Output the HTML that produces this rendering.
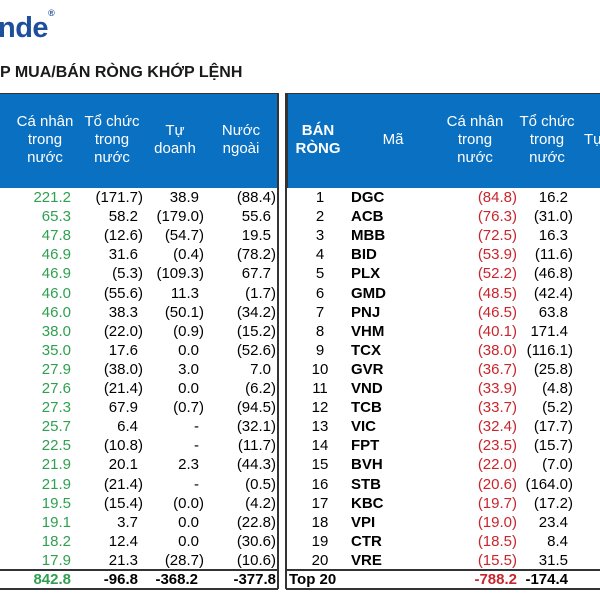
<!DOCTYPE html>
<html><head><meta charset="utf-8">
<style>
body{margin:0;width:600px;height:600px;overflow:hidden;background:#fff;font-family:"Liberation Sans",Arial,sans-serif;position:relative}
.a{position:absolute;white-space:nowrap}
.hd{color:#fff;font-size:15px;text-align:center;line-height:18px}
.c{font-size:15px;line-height:17px}
.g{color:#2fa050}.red{color:#c8252c}
.hp{visibility:hidden}
</style></head><body>
<div class="a" style="left:-2px;top:12px;font-size:29px;font-weight:bold;color:#1d4f9c;letter-spacing:-0.5px">nde<sup style="font-size:9px;vertical-align:top;position:relative;top:-4px">®</sup></div>
<div class="a" style="left:0;top:64px;font-size:16px;font-weight:bold;color:#1a1a1a">P MUA/BÁN RÒNG KHỚP LỆNH</div>

<div class="a" style="left:0;top:93px;width:278px;height:94px;background:#0a70c2;border-top:1px solid #333"></div>
<div class="a" style="left:286px;top:93px;width:314px;height:94px;background:#0a70c2;border-top:1px solid #333;border-left:2px solid #333"></div>
<div class="a" style="left:277px;top:93px;width:2px;height:496px;background:#333"></div>
<div class="a" style="left:285px;top:93px;width:2px;height:496px;background:#333"></div>

<div class="a hd" style="left:8px;top:113px;width:74px">Cá nhân<br>trong<br>nước</div>
<div class="a hd" style="left:75px;top:113px;width:74px">Tổ chức<br>trong<br>nước</div>
<div class="a hd" style="left:140px;top:122px;width:70px">Tự<br>doanh</div>
<div class="a hd" style="left:206px;top:122px;width:70px">Nước<br>ngoài</div>

<div class="a hd" style="left:288px;top:122px;width:60px;font-weight:bold">BÁN<br>RÒNG</div>
<div class="a hd" style="left:368px;top:131px;width:50px">Mã</div>
<div class="a hd" style="left:438px;top:113px;width:74px">Cá nhân<br>trong<br>nước</div>
<div class="a hd" style="left:510px;top:113px;width:74px">Tổ chức<br>trong<br>nước</div>
<div class="a hd" style="left:584px;top:131px;width:30px;text-align:left">Tự</div>

<div class="a" style="left:0;top:569px;width:278px;height:2px;background:#333"></div>
<div class="a" style="left:0;top:588px;width:278px;height:2px;background:#333"></div>
<div class="a" style="left:286px;top:569px;width:314px;height:2px;background:#333"></div>
<div class="a" style="left:286px;top:588px;width:314px;height:2px;background:#333"></div>

<div id="rows"></div>
<script>
var buyCaNhan=[221.2,65.3,47.8,46.9,46.9,46.0,46.0,38.0,35.0,27.9,27.6,27.3,25.7,22.5,21.9,21.9,19.5,19.1,18.2,17.9];
var buyToChuc=[-171.7,58.2,-12.6,31.6,-5.3,-55.6,38.3,-22.0,17.6,-38.0,-21.4,67.9,6.4,-10.8,20.1,-21.4,-15.4,3.7,12.4,21.3];
var buyTuDoanh=[38.9,-179.0,-54.7,-0.4,-109.3,11.3,-50.1,-0.9,0.0,3.0,0.0,-0.7,null,null,2.3,null,-0.0,0.0,0.0,-28.7];
var buyNuocNgoai=[-88.4,55.6,19.5,-78.2,67.7,-1.7,-34.2,-15.2,-52.6,7.0,-6.2,-94.5,-32.1,-11.7,-44.3,-0.5,-4.2,-22.8,-30.6,-10.6];
var buyTotals=["842.8","-96.8","-368.2","-377.8"];
var sellCodes=["DGC","ACB","MBB","BID","PLX","GMD","PNJ","VHM","TCX","GVR","VND","TCB","VIC","FPT","BVH","STB","KBC","VPI","CTR","VRE"];
var sellCaNhan=[-84.8,-76.3,-72.5,-53.9,-52.2,-48.5,-46.5,-40.1,-38.0,-36.7,-33.9,-33.7,-32.4,-23.5,-22.0,-20.6,-19.7,-19.0,-18.5,-15.5];
var sellToChuc=[16.2,-31.0,16.3,-11.6,-46.8,-42.4,63.8,171.4,-116.1,-25.8,-4.8,-5.2,-17.7,-15.7,-7.0,-164.0,-17.2,23.4,8.4,31.5];
var sellTotals=["-788.2","-174.4"];

var root=document.getElementById('rows');
function fmt(v){
  if(v===null) return '-<span class="hp">)</span>';
  if(v<0||Object.is(v,-0)) return '('+Math.abs(v).toFixed(1)+')';
  return v.toFixed(1)+'<span class="hp">)</span>';
}
function cell(name,x,y,w,html,cls,align){
  var d=document.createElement('div');
  d.className='a c '+(cls||'');
  d.style.left=x+'px';d.style.top=y+'px';d.style.width=w+'px';
  d.style.textAlign=align||'right';
  d.innerHTML=html;
  
  
  root.appendChild(d);
}
for(var i=0;i<20;i++){
  var y=189+i*19.1;
  cell('buy-ca-nhan',0,y,71,buyCaNhan[i].toFixed(1),'g');
  cell('buy-to-chuc',72,y,71,fmt(buyToChuc[i]));
  cell('buy-tu-doanh',140,y,64,fmt(buyTuDoanh[i]));
  cell('buy-nuoc-ngoai',205,y,71,fmt(buyNuocNgoai[i]));
  cell('sell-rank',300,y,40,String(i+1),'','center');
  cell('sell-code',351,y,60,'<b>'+sellCodes[i]+'</b>','','left');
  cell('sell-ca-nhan',440,y,77,fmt(sellCaNhan[i]),'red');
  cell('sell-to-chuc',500,y,73,fmt(sellToChuc[i]));
}
var ty=571;
cell('total-ca-nhan',0,ty,71,'<b>'+buyTotals[0]+'</b>','g');
cell('total-to-chuc',72,ty,66,'<b>'+buyTotals[1]+'</b>');
cell('total-tu-doanh',140,ty,58,'<b>'+buyTotals[2]+'</b>');
cell('total-nuoc-ngoai',205,ty,71,'<b>'+buyTotals[3]+'</b>');
cell('total-label',289,ty,60,'<b>Top 20</b>','','left');
cell('total-sell-ca-nhan',440,ty,77,'<b>'+sellTotals[0]+'</b>','red');
cell('total-sell-to-chuc',500,ty,68,'<b>'+sellTotals[1]+'</b>');
</script>
</body></html>
